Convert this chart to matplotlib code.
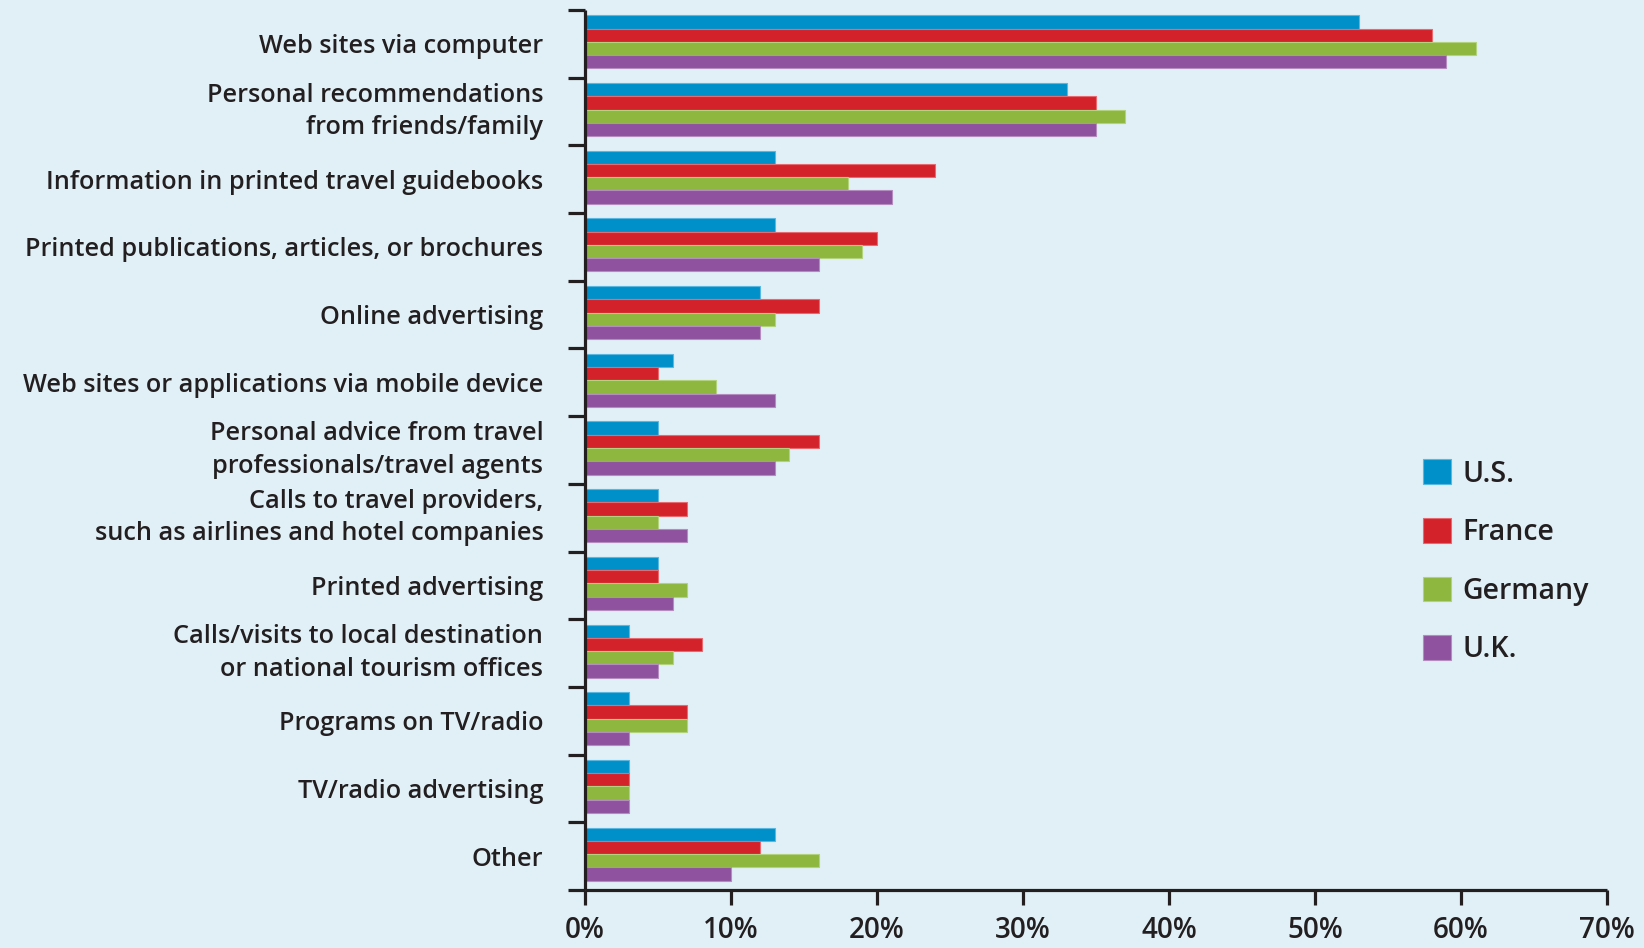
import matplotlib
matplotlib.use("Agg")
import matplotlib.pyplot as plt
import numpy as np

categories = [
    "Web sites via computer",
    "Personal recommendations\nfrom friends/family",
    "Information in printed travel guidebooks",
    "Printed publications, articles, or brochures",
    "Online advertising",
    "Web sites or applications via mobile device",
    "Personal advice from travel\nprofessionals/travel agents",
    "Calls to travel providers,\nsuch as airlines and hotel companies",
    "Printed advertising",
    "Calls/visits to local destination\nor national tourism offices",
    "Programs on TV/radio",
    "TV/radio advertising",
    "Other",
]
series_names = ["U.S.", "France", "Germany", "U.K."]
us      = [53, 33, 13, 13, 12, 6, 5, 5, 5, 3, 3, 3, 13]
france  = [58, 35, 24, 20, 16, 5, 16, 7, 5, 8, 7, 3, 12]
germany = [61, 37, 18, 19, 13, 9, 14, 5, 7, 6, 7, 3, 16]
uk      = [59, 35, 21, 16, 12, 13, 13, 7, 6, 5, 3, 3, 10]
xticks = [0, 10, 20, 30, 40, 50, 60, 70]
xtick_labels = ["0%", "10%", "20%", "30%", "40%", "50%", "60%", "70%"]

colors = ["#0090c9", "#d4222b", "#8db73f", "#8e529e"]
edges = ["#5ab8e0", "#e86a70", "#b3d27e", "#b48cc0"]
bg = "#e1f0f6"
ink = "#231f20"

plt.rcParams['font.family'] = ['Open Sans', 'DejaVu Sans']
plt.rcParams['font.weight'] = 'semibold'

fig = plt.figure(figsize=(16.44, 9.48), dpi=100, facecolor=bg)
ax = fig.add_axes([585/1644, 1-890/948, (1607-585)/1644, (890-10)/948])
ax.set_facecolor(bg)

n = len(categories)
centers = np.arange(n)[::-1] + 0.5
h = 0.196
offsets = [1.5*h, 0.5*h, -0.5*h, -1.5*h]
all_vals = [us, france, germany, uk]
handles = []
for vals, off, c, e, name in zip(all_vals, offsets, colors, edges, series_names):
    b = ax.barh(centers + off + 0.03, vals, height=h, color=c, edgecolor=e,
                linewidth=0.8, label=name, zorder=2)
    handles.append(b)

ax.set_xlim(0, 70)
ax.set_ylim(0, n)

for s in ["top", "right"]:
    ax.spines[s].set_visible(False)
for s in ["left", "bottom"]:
    ax.spines[s].set_linewidth(2.3)
    ax.spines[s].set_color(ink)
    ax.spines[s].set_capstyle("butt")

ax.set_yticks(np.arange(n + 1))
ax.set_yticklabels([])
ax.set_yticks(centers, minor=True)
ax.set_yticklabels(categories, minor=True, fontsize=18.2, color=ink, linespacing=1.38)
for lab in ax.get_yticklabels(minor=True):
    if "\n" in lab.get_text():
        lab.set_va("center")
ax.tick_params(axis="y", which="major", direction="out", length=12.5, width=2.3, color=ink)
ax.tick_params(axis="y", which="minor", length=0, pad=30)

ax.set_xticks(xticks)
ax.set_xticklabels(xtick_labels, fontsize=20, color=ink)
ax.tick_params(axis="x", direction="out", length=11, width=2.3, color=ink, pad=8)

leg = fig.legend(handles=handles, labels=series_names, loc="upper left",
                 bbox_to_anchor=(1412/1644, 1-448/948), frameon=False,
                 fontsize=20.5, handlelength=0.97, handleheight=0.97,
                 handletextpad=0.4, labelspacing=1.03, borderaxespad=0)
for t in leg.get_texts():
    t.set_color(ink)

fig.savefig("out.png", dpi=100, facecolor=bg)
